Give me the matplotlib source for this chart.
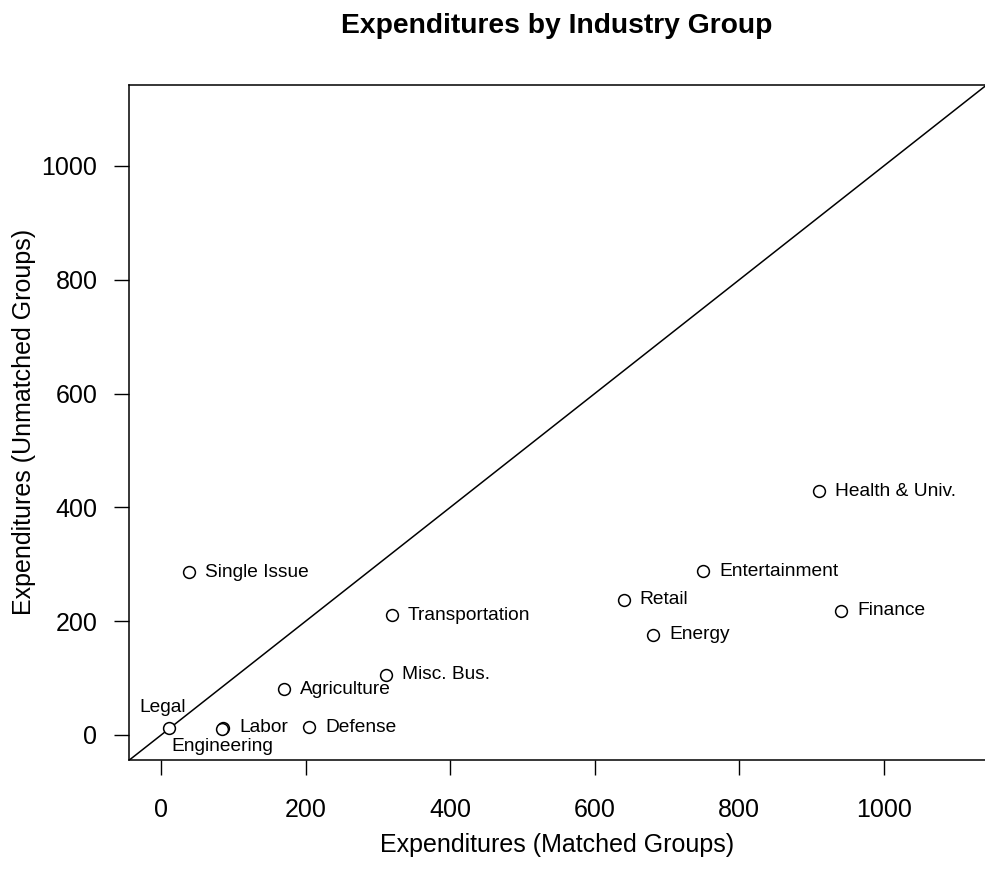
import matplotlib
matplotlib.use("Agg")
import matplotlib.pyplot as plt

plt.rcParams['font.family'] = ['Liberation Sans', 'DejaVu Sans']

# Industry groups and expenditures
industries = ['Single Issue', 'Transportation', 'Misc. Bus.', 'Agriculture',
              'Legal', 'Labor', 'Engineering', 'Defense', 'Health & Univ.',
              'Entertainment', 'Retail', 'Finance', 'Energy']
matched = [39, 319, 311, 170, 11, 86, 84, 205, 910, 750, 640, 941, 681]
unmatched = [286, 210, 106, 80, 13, 13, 11, 14, 428, 288, 238, 218, 176]
# label placement like R's text(pos=...): 1 below, 3 above, 4 right
label_pos = [4, 4, 4, 4, 3, 4, 1, 4, 4, 4, 4, 4, 4]

fig = plt.figure(figsize=(9.85, 8.88), dpi=100)
ax = fig.add_axes([0.1313, 0.1441, 0.8687, 0.7607])

ax.plot(matched, unmatched, 'o', mfc='white', mec='black', mew=1.1,
        ms=8.5, zorder=3)
ax.axline((0, 0), slope=1, color='black', lw=1.1)

for name, x, y, p in zip(industries, matched, unmatched, label_pos):
    if p == 4:
        ax.annotate(name, (x, y), xytext=(11.5, 0), textcoords='offset points',
                    ha='left', va='center', fontsize=13.8)
    elif p == 3:
        ax.annotate(name, (x, y), xytext=(-5, 8), textcoords='offset points',
                    ha='center', va='bottom', fontsize=13.8)
    else:
        ax.annotate(name, (x, y), xytext=(0, -7), textcoords='offset points',
                    ha='center', va='top', fontsize=13.8)

ax.set_xlim(-44, 1140)
ax.set_ylim(-44, 1143)
ax.set_xticks([0, 200, 400, 600, 800, 1000])
ax.set_yticks([0, 200, 400, 600, 800, 1000])
ax.tick_params(direction='out', length=11, width=1.0, labelsize=18)
ax.tick_params(axis='x', pad=16.5)
ax.tick_params(axis='y', pad=12)
ax.spines['right'].set_visible(False)
for s in ['left', 'bottom', 'top']:
    ax.spines[s].set_linewidth(1.1)

ax.set_xlabel('Expenditures (Matched Groups)', fontsize=18, labelpad=7.5)
ax.set_ylabel('Expenditures (Unmatched Groups)', fontsize=18, labelpad=4)
fig.suptitle('Expenditures by Industry Group', fontsize=20.3, fontweight='bold',
             x=0.5655, y=0.9628, va='baseline')

fig.savefig('out.png', dpi=100)
